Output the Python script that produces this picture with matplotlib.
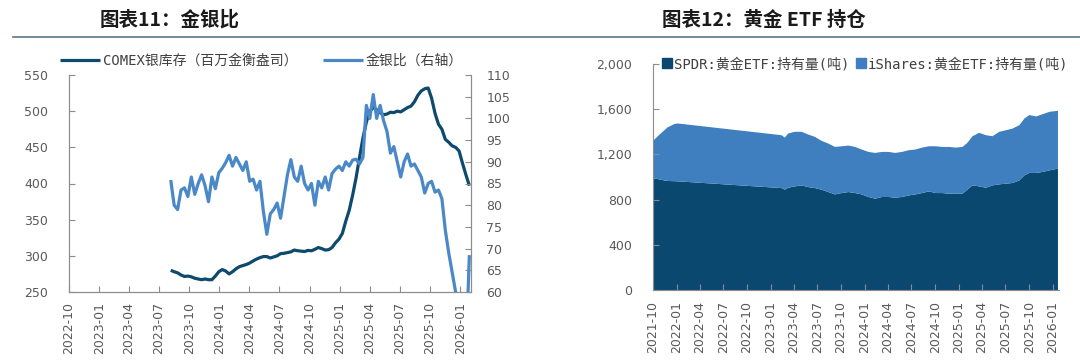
import pandas as pd
import matplotlib
matplotlib.use('Agg')
import matplotlib.pyplot as plt
import matplotlib.dates as mdates
from matplotlib.lines import Line2D
from matplotlib.patches import Patch
from matplotlib.ticker import FuncFormatter

plt.rcParams['font.family'] = ['DejaVu Sans', 'Noto Sans CJK SC']
cjk = ['Noto Sans CJK SC', 'DejaVu Sans']
mono = ['DejaVu Sans Mono', 'Noto Sans CJK SC']

# ---- 图表11 数据 ----
# COMEX银库存（百万金衡盎司），约10天一个点
comex = [280, 278, 276.5, 273.5, 271.5, 272, 271, 269, 268, 267,
         268, 267, 267, 272, 278, 281, 279, 275, 278, 282,
         285, 286.5, 288, 290, 293, 295.5, 297.5, 299, 299, 297,
         298.5, 300, 303, 303.5, 304.5, 305.5, 308, 307, 306.5, 306,
         307.5, 307, 309, 311.5, 310, 308, 308.5, 311.5, 318, 323,
         331, 348, 363, 384, 408, 436, 463, 485, 500, 505,
         502, 498, 495, 496, 498.5, 498, 500, 499, 502, 505,
         507, 513, 522, 528, 531, 532, 518, 497, 482, 475,
         461, 457, 452, 450, 445, 428, 412, 397]
# 金银比（右轴）
ratio = [85.8, 80.0, 79.0, 83.5, 84.0, 82.0, 86.5, 82.5, 85.0, 87.0,
         84.5, 80.8, 86.5, 83.8, 87.5, 88.5, 89.8, 91.5, 89.0, 91.0,
         89.5, 88.0, 90.0, 85.5, 86.0, 83.5, 85.5, 78.5, 73.3, 78.0,
         79.0, 80.5, 77.0, 82.0, 87.0, 90.5, 86.5, 85.5, 89.0, 85.0,
         83.5, 85.0, 80.0, 85.5, 84.0, 86.5, 83.5, 87.3, 88.3, 89.0,
         88.0, 90.0, 89.0, 90.4, 90.6, 89.5, 91.0, 103.0, 100.0, 105.5,
         100.0, 103.0, 99.5, 97.0, 92.0, 93.5, 90.0, 86.5, 90.0, 91.8,
         89.0, 89.5, 88.0, 86.5, 82.8, 85.0, 85.5, 83.0, 83.5, 81.5,
         74.2, 69.0, 64.5, 60.0, 54.0, 48.0, 46.0, 68.5]
dates11 = pd.date_range('2023-08-06', '2026-01-29', periods=len(comex))

# ---- 图表12 数据 ----
dates12 = pd.to_datetime([
    '2021-10-01', '2021-10-31', '2021-11-26', '2021-12-22', '2022-01-04',
    '2023-02-12', '2023-02-25', '2023-03-10', '2023-04-05', '2023-05-01',
    '2023-05-27', '2023-06-22', '2023-07-18', '2023-08-13', '2023-09-08',
    '2023-10-04', '2023-10-30', '2023-11-25', '2023-12-21', '2024-01-16',
    '2024-02-11', '2024-03-08', '2024-04-03', '2024-04-29', '2024-05-25',
    '2024-06-20', '2024-07-16', '2024-08-11', '2024-09-07', '2024-10-03',
    '2024-10-29', '2024-11-24', '2024-12-20', '2025-01-15', '2025-02-03',
    '2025-02-23', '2025-03-21', '2025-04-16', '2025-05-12', '2025-06-07',
    '2025-07-03', '2025-07-29', '2025-08-24', '2025-09-13', '2025-10-02',
    '2025-10-28', '2025-11-23', '2025-12-19', '2026-01-21'])
spdr = [991, 976, 965, 963, 962,
        902, 888, 905, 917, 926,
        911, 902, 888, 867, 846,
        858, 867, 858, 846, 823,
        808, 823, 823, 817, 823,
        837, 846, 858, 873, 858,
        858, 852, 852, 852, 888,
        926, 917, 905, 926, 935,
        941, 947, 970, 1015, 1036,
        1036, 1045, 1059, 1074]
ishares = [329, 409, 473, 505, 512,
           468, 461, 480, 483, 474,
           465, 453, 432, 429, 420,
           414, 411, 408, 397, 399,
           405, 399, 399, 396, 399,
           400, 397, 402, 399, 414,
           408, 414, 408, 414, 414,
           435, 474, 465, 435, 465,
           473, 482, 489, 503, 512,
           500, 511, 518, 512]

c_dark = '#0d4a6e'
c_light = '#4a88c7'
c_spdr = '#0b4870'
c_ish = '#3f7fbf'
c_tick = '#595959'
c_spine = '#8c8c8c'

fig = plt.figure(figsize=(10.8, 3.63), dpi=100)

# 标题与分隔线
fig.text(100 / 1080, 1 - 20 / 363, '图表11：金银比', family=cjk, fontsize=14,
         fontweight='bold', va='center', ha='left', color='#1a1a1a')
fig.text(662 / 1080, 1 - 20 / 363, '图表12：黄金 ETF 持仓', family=cjk, fontsize=14,
         fontweight='bold', va='center', ha='left', color='#1a1a1a')
fig.add_artist(Line2D([13 / 1080, 1.0], [1 - 37 / 363, 1 - 37 / 363],
                      color='#5a7688', lw=1.2))

# ---- 左图 ----
ax = fig.add_axes([69 / 1080, 1 - 292 / 363, (471 - 69) / 1080, (292 - 75) / 363])
ax2 = ax.twinx()
l1, = ax.plot(dates11, comex, color=c_dark, lw=2.3, solid_capstyle='butt')
l2, = ax2.plot(dates11, ratio, color=c_light, lw=2.3, solid_capstyle='butt')

ax.set_xlim(pd.Timestamp('2022-10-01'), pd.Timestamp('2026-02-03'))
ax.set_ylim(250, 550)
ax.set_yticks(range(250, 551, 50))
ax2.set_ylim(60, 110)
ax2.set_yticks(range(60, 111, 5))
ax.set_xticks(pd.date_range('2022-10-01', '2026-01-01', freq='3MS'))
ax.xaxis.set_major_formatter(mdates.DateFormatter('%Y-%m'))

for a in (ax, ax2):
    a.spines['top'].set_visible(False)
    for s in ('left', 'right', 'bottom'):
        a.spines[s].set_color(c_spine)
    a.tick_params(direction='in', length=4, color=c_spine, labelcolor=c_tick,
                  labelsize=9)
ax.tick_params(axis='y', pad=15)
ax2.tick_params(axis='y', pad=11)
ax.tick_params(axis='x', rotation=90, pad=7)

fig.legend([l1, l2], ['COMEX银库存（百万金衡盎司）', '金银比（右轴）'],
           loc='center left', bbox_to_anchor=(60 / 1080, 1 - 61 / 363),
           ncol=2, frameon=False, handlelength=2.9, handletextpad=0.2,
           columnspacing=1.8, borderpad=0, borderaxespad=0,
           prop={'family': mono, 'size': 10}, labelcolor='#404040')

# ---- 右图 ----
ax3 = fig.add_axes([653 / 1080, 1 - 290 / 363, (1059 - 653) / 1080, (290 - 64) / 363])
ax3.stackplot(dates12, spdr, ishares, colors=[c_spdr, c_ish], lw=0)
ax3.set_xlim(pd.Timestamp('2021-10-01'), pd.Timestamp('2026-01-25'))
ax3.set_ylim(0, 2000)
ax3.set_yticks(range(0, 2001, 400))
ax3.yaxis.set_major_formatter(FuncFormatter(lambda v, p: f'{v:,.0f}'))
ax3.set_xticks(pd.date_range('2021-10-01', '2026-01-01', freq='3MS'))
ax3.xaxis.set_major_formatter(mdates.DateFormatter('%Y-%m'))
ax3.spines['top'].set_visible(False)
ax3.spines['right'].set_visible(False)
for s in ('left', 'bottom'):
    ax3.spines[s].set_color(c_spine)
ax3.tick_params(direction='in', length=4, color=c_spine, labelcolor=c_tick,
                labelsize=9)
ax3.tick_params(axis='y', pad=15)
ax3.tick_params(axis='x', rotation=90, pad=8)

ax3.legend([Patch(color=c_spdr), Patch(color=c_ish)],
           ['SPDR:黄金ETF:持有量(吨)', 'iShares:黄金ETF:持有量(吨)'],
           loc='center left', bbox_to_anchor=(662 / 1080, 1 - 64 / 363),
           bbox_transform=fig.transFigure,
           ncol=2, frameon=False, handlelength=0.7, handleheight=0.7,
           handletextpad=0.15, columnspacing=0.5, borderpad=0, borderaxespad=0,
           prop={'family': mono, 'size': 10}, labelcolor='#404040')

fig.savefig('out.png', dpi=100)
